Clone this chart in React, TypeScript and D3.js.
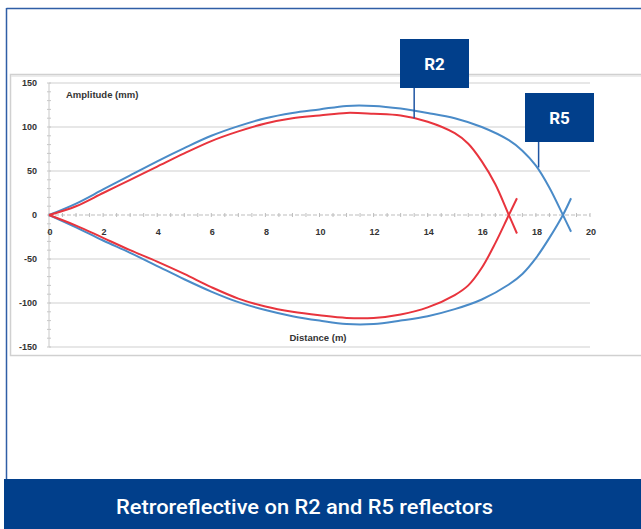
import React from "react";
import * as d3 from "d3";

// ---- data ----
const xTicks = [0, 2, 4, 6, 8, 10, 12, 14, 16, 18, 20];
const yTicks = [150, 100, 50, 0, -50, -100, -150];
const gridValues = [150, 100, 50, -50, -100, -150];

// R5 (blue) — upper and lower branches [distance m, amplitude mm]
const r5Upper: [number, number][] = [
  [0, 0], [1, 13], [2, 29], [3, 45], [4, 61], [5, 76], [6, 90], [7, 101], [8, 110],
  [9, 116], [10, 120], [11, 124], [12, 124], [13, 121], [14, 116],
  [15, 110], [16, 100], [17, 85], [17.5, 73], [18, 56], [18.5, 31], [19, 0], [19.3, -19],
];
const r5Lower: [number, number][] = [
  [0, 0], [1, -14], [2, -29], [3, -43], [4, -58], [5, -73], [6, -87], [7, -99],
  [8, -108], [9, -115], [10, -120], [11, -124], [12, -124], [13, -120],
  [14, -115], [15, -107], [16, -96], [17, -79], [17.5, -67], [18, -49], [18.5, -26],
  [19, 0], [19.3, 19],
];
// R2 (red)
const r2Upper: [number, number][] = [
  [0, 0], [1, 10], [2, 25], [3, 40], [4, 55], [5, 70], [6, 84], [7, 95], [8, 104],
  [9, 110], [10, 113], [11, 116], [12, 115], [13, 113],
  [14, 106], [15, 93], [15.5, 81], [16, 61], [16.5, 35], [17, 0], [17.3, -21],
];
const r2Lower: [number, number][] = [
  [0, 0], [1, -12], [2, -26], [3, -40], [4, -53], [5, -67], [6, -82], [7, -95],
  [8, -104], [9, -110], [10, -114], [11, -117], [12, -117], [13, -113], [14, -105],
  [15, -91], [15.5, -80], [16, -60], [16.5, -32], [17, 0], [17.3, 19],
];

// callout anchors: [label, distance, amplitude]
const callouts: [string, number, number][] = [
  ["R2", 13.5, 110],
  ["R5", 18.1, 54],
];

const titleText = "Retroreflective on R2 and R5 reflectors";
const yAxisTitle = "Amplitude (mm)";
const xAxisTitle = "Distance (m)";

const BLUE = "#4a8bc8";
const RED = "#e8343d";
const NAVY = "#013f8b";

export default function App() {
  const x = d3.scaleLinear().domain([0, 20]).range([49, 590]);
  const y = d3.scaleLinear().domain([-150, 150]).range([347, 83]);
  const line = d3
    .line<[number, number]>()
    .x((d) => x(d[0]))
    .y((d) => y(d[1]))
    .curve(d3.curveCatmullRom.alpha(0.5));

  const minorX = d3.range(0, 20.01, 0.5);
  const minorY = d3.range(-150, 150.01, 10);

  const boxes = [
    { cx: 434.5, top: 39 },
    { cx: 559.5, top: 93 },
  ];

  return (
    <div style={{ position: "absolute", left: 0, top: 0 }}>
      <svg width={641} height={529} style={{ display: "block" }}>
        <rect x={0} y={0} width={641} height={529} fill="#fff" />
        {/* outer frame */}
        <line x1={6.5} y1={8.5} x2={641} y2={8.5} stroke="#2f5ea6" strokeWidth={1.5} />
        <line x1={6.5} y1={8} x2={6.5} y2={480} stroke="#2f5ea6" strokeWidth={1.5} />

        {/* plot image frame */}
        <rect x={10.5} y={74.5} width={640} height={281} fill="#fff" stroke="#d0d0d0" strokeWidth={1.5} />
        <line x1={11} y1={76} x2={641} y2={76} stroke="#e6e6e6" strokeWidth={1.5} />

        {/* gridlines */}
        {gridValues.map((v) => (
          <line key={v} x1={x(0)} x2={x(20)} y1={y(v)} y2={y(v)} stroke="#cfcfcf" strokeWidth={1} />
        ))}

        {/* y axis */}
        <line x1={x(0)} x2={x(0)} y1={y(150)} y2={y(-150)} stroke="#c8c8c8" strokeWidth={1} />
        {minorY.map((v) => (
          <line key={"my" + v} x1={x(0) - 2} x2={x(0) + 2} y1={y(v)} y2={y(v)} stroke="#c8c8c8" strokeWidth={1} />
        ))}
        {/* x axis */}
        <line x1={x(0)} x2={x(20)} y1={y(0)} y2={y(0)} stroke="#bdbdbd" strokeWidth={1} strokeDasharray="4 2" />
        {minorX.map((v) => (
          <line key={"mx" + v} x1={x(v)} x2={x(v)} y1={y(0) - 2} y2={y(0) + 2} stroke="#bdbdbd" strokeWidth={1} />
        ))}

        {/* tick labels */}
        {yTicks.map((v) => (
          <text key={"yt" + v} x={37} y={y(v) + 3} textAnchor="end" fontFamily="Liberation Sans, Arial, sans-serif" fontWeight="bold" fontSize={9} fill="#333">
            {v}
          </text>
        ))}
        {xTicks.map((v) => (
          <text key={"xt" + v} x={x(v) + 1} y={y(0) + 20} textAnchor="middle" fontFamily="Liberation Sans, Arial, sans-serif" fontWeight="bold" fontSize={9} fill="#333">
            {v}
          </text>
        ))}
        <text x={66} y={98} fontFamily="Liberation Sans, Arial, sans-serif" fontWeight="bold" fontSize={9.5} fill="#333">
          {yAxisTitle}
        </text>
        <text x={318} y={341} textAnchor="middle" fontFamily="Liberation Sans, Arial, sans-serif" fontWeight="bold" fontSize={9.5} fill="#333">
          {xAxisTitle}
        </text>

        {/* curves */}
        <path d={line(r5Upper) || ""} fill="none" stroke={BLUE} strokeWidth={2} />
        <path d={line(r5Lower) || ""} fill="none" stroke={BLUE} strokeWidth={2} />
        <path d={line(r2Upper) || ""} fill="none" stroke={RED} strokeWidth={2} />
        <path d={line(r2Lower) || ""} fill="none" stroke={RED} strokeWidth={2} />

        {/* callouts */}
        {callouts.map(([label, dx, dy], i) => {
          const b = boxes[i];
          return (
            <g key={label}>
              <line x1={x(dx)} x2={x(dx)} y1={b.top + 49} y2={y(dy)} stroke="#1f55a3" strokeWidth={1.5} />
              <rect x={b.cx - 34.5} y={b.top} width={69} height={49} fill={NAVY} />
              <text x={b.cx} y={b.top + 31} textAnchor="middle" fontFamily="Roboto, 'Open Sans', sans-serif" fontWeight="bold" fontSize={17} fill="#fff">
                {label}
              </text>
            </g>
          );
        })}

        {/* bottom banner */}
        <rect x={4} y={479} width={637} height={50} fill={NAVY} />
        <text x={304.5} y={514} textAnchor="middle" fontFamily="Roboto, 'Open Sans', sans-serif" fontWeight={500} fontSize={20} fill="#fff" textLength={377} lengthAdjust="spacingAndGlyphs">
          {titleText}
        </text>
      </svg>
    </div>
  );
}
